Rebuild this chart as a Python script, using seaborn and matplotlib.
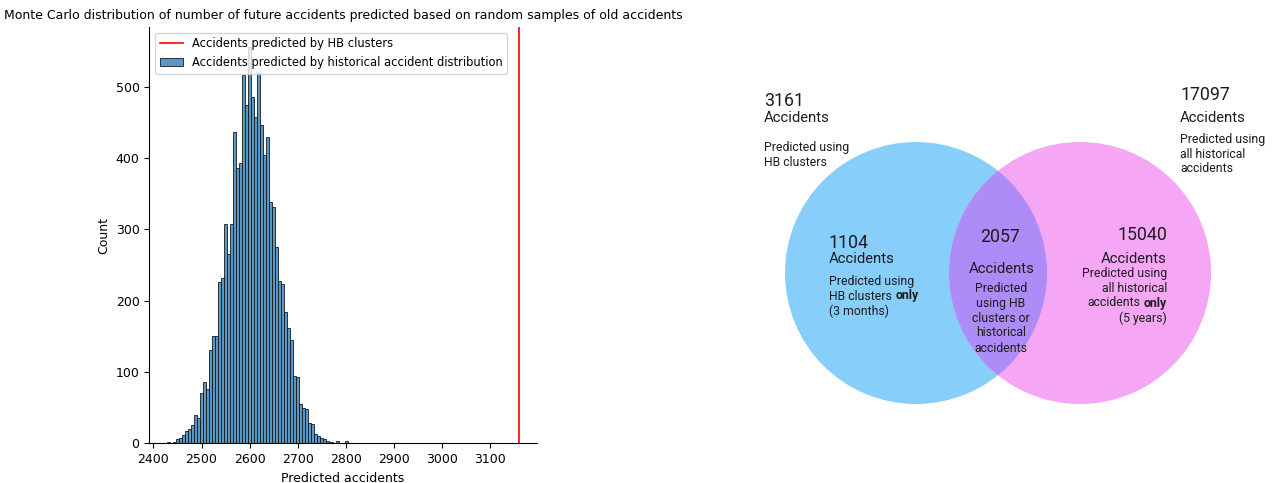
import numpy as np
import matplotlib
matplotlib.use("Agg")
import matplotlib.pyplot as plt
from matplotlib.patches import Circle
import seaborn as sns

# ---- Monte Carlo simulation results (counts per histogram bin) ----
hist_counts = [2, 1, 2, 6, 8, 12, 17, 20, 25, 40, 36, 71, 86, 76, 131, 151, 151,
               226, 232, 308, 266, 308, 437, 386, 393, 516, 474, 556, 485, 457,
               519, 446, 404, 430, 338, 332, 275, 228, 224, 184, 162, 145, 95, 93,
               55, 50, 48, 28, 27, 13, 10, 7, 6, 3, 2, 1, 3, 1, 0, 3]
hist_range = (2428, 2804)          # smallest / largest simulated total
hb_prediction = 3161               # accidents predicted by HB clusters

hist_label = "Accidents predicted by historical accident distribution"
line_label = "Accidents predicted by HB clusters"
title = ("Monte Carlo distribution of number of future accidents predicted "
         "based on random samples of old accidents")

# ---- Venn diagram numbers ----
hb_total = 3161
hist_total = 17097
hb_only = 1104
both = 2057
hist_only = 15040

plt.rcParams["font.family"] = "DejaVu Sans"
plt.rcParams["font.size"] = 9

fig = plt.figure(figsize=(12.77, 4.83), dpi=100)

# ---------------- Venn diagram (pixel coordinates, y down) ----------------
axv = fig.add_axes([0, 0, 1, 1])
axv.set_xlim(0, 1277)
axv.set_ylim(483, 0)
axv.axis("off")

blue = "#87cefa"
pink = "#f5a6f5"
overlap = "#ae8cf8"
r = 131
c_left = (916, 273)
c_right = (1080, 273)
axv.add_patch(Circle(c_left, r, facecolor=blue, edgecolor="none"))
pink_circle = Circle(c_right, r, facecolor=pink, edgecolor="none")
axv.add_patch(pink_circle)
lens = Circle(c_left, r, facecolor=overlap, edgecolor="none")
axv.add_patch(lens)
lens.set_clip_path(pink_circle)

vfont = "Roboto"
tc = "#1c1c1c"
big, mid, small = 12.8, 10.7, 8.8


def vtext(x, y, s, size, ha="left", weight="normal"):
    return axv.text(x, y, s, fontsize=size, ha=ha, va="center", color=tc,
                    family=vfont, fontweight=weight)


def bold_tail(x, y, plain, bold, size, ha="left"):
    if ha == "left":
        t = vtext(x, y, plain, size)
        axv.annotate(bold, xy=(1, 0), xycoords=t, xytext=(2.5, 0),
                     textcoords="offset points", ha="left", va="bottom",
                     fontsize=size, family=vfont, fontweight="bold", color=tc)
    else:
        t = vtext(x, y, bold, size, ha="right", weight="bold")
        axv.annotate(plain, xy=(0, 0), xycoords=t, xytext=(-2.5, 0),
                     textcoords="offset points", ha="right", va="bottom",
                     fontsize=size, family=vfont, color=tc)


# totals above each circle
vtext(764, 101, f"{hb_total}", big)
vtext(764, 118, "Accidents", mid)
vtext(764, 147, "Predicted using", small)
vtext(764, 162, "HB clusters", small)

vtext(1180, 95, f"{hist_total}", big)
vtext(1180, 118, "Accidents", mid)
vtext(1180, 140, "Predicted using", small)
vtext(1180, 155, "all historical", small)
vtext(1180, 169, "accidents", small)

# HB only
vtext(829, 243, f"{hb_only}", big)
vtext(829, 259, "Accidents", mid)
vtext(829, 281, "Predicted using", small)
bold_tail(829, 296, "HB clusters", "only", small)
vtext(829, 311, "(3 months)", small)

# both
vtext(1000, 237, f"{both}", big, ha="center")
vtext(1002, 269, "Accidents", mid, ha="center")
for i, line in enumerate(["Predicted", "using HB", "clusters or",
                          "historical", "accidents"]):
    vtext(1001, 288 + 15 * i, line, small, ha="center")

# historical only
vtext(1167, 235, f"{hist_only}", big, ha="right")
vtext(1167, 259, "Accidents", mid, ha="right")
vtext(1167, 273, "Predicted using", small, ha="right")
vtext(1167, 288, "all historical", small, ha="right")
bold_tail(1167, 303, "accidents", "only", small, ha="right")
vtext(1167, 318, "(5 years)", small, ha="right")

# ---------------- Histogram ----------------
ax = fig.add_axes([149.3 / 1277, 39.7 / 483, 387.4 / 1277, 416.3 / 483])
n_bins = len(hist_counts)
edges = np.linspace(hist_range[0], hist_range[1], n_bins + 1)
centers = (edges[:-1] + edges[1:]) / 2

ax.axvline(hb_prediction, color="red", lw=1.2, label=line_label)
sns.histplot(x=centers, weights=hist_counts, bins=n_bins, binrange=hist_range,
             ax=ax, label=hist_label, linewidth=0.6, edgecolor="#1a1a1a")
sns.despine(ax=ax)
ax.set_xlabel("Predicted accidents")
ax.set_ylabel("Count")
ax.set_xticks(np.arange(2400, 3101, 100))
ax.set_title(title, fontsize=9)
ax.legend(loc="upper left", fontsize=8.3)

fig.savefig("out.png", dpi=100)
